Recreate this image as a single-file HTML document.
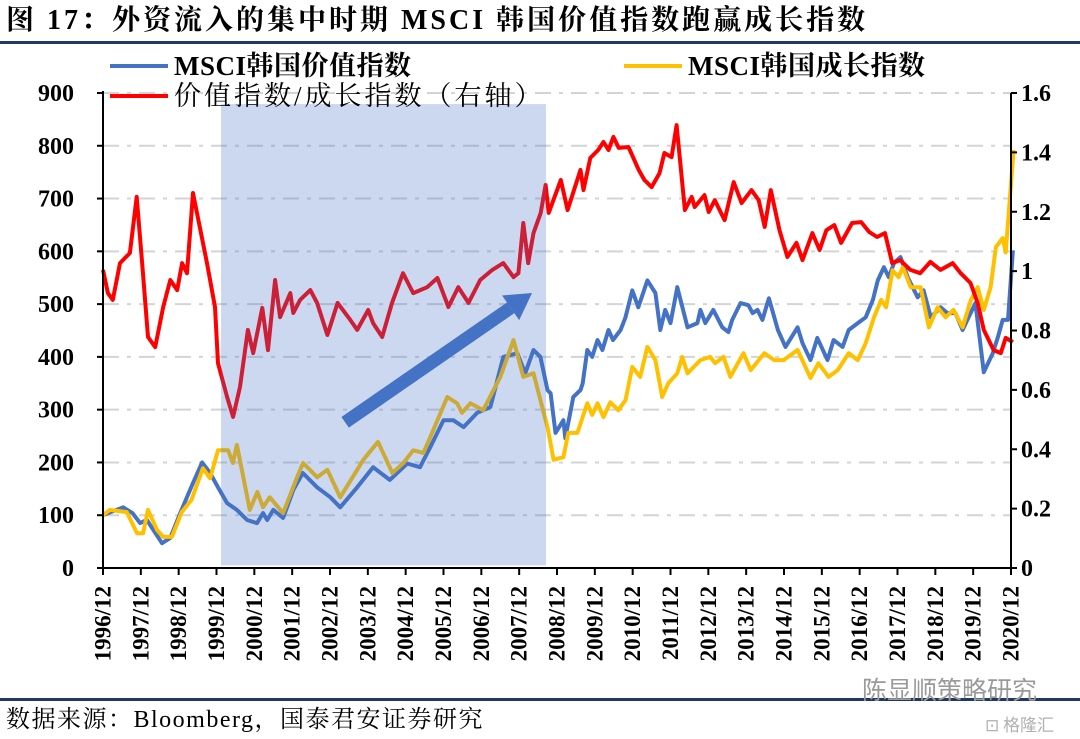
<!DOCTYPE html>
<html><head><meta charset="utf-8">
<style>
html,body{margin:0;padding:0;background:#fff;}
body{width:1080px;height:739px;overflow:hidden;position:relative;}
svg{position:absolute;left:0;top:0;}
</style></head>
<body>
<svg id="chart" width="1080" height="739" viewBox="0 0 1080 739" xmlns="http://www.w3.org/2000/svg">
  <text x="6" y="29" font-family="'Liberation Serif','Noto Serif CJK SC',serif" font-weight="bold" font-size="28" letter-spacing="3" fill="#000">图 17：外资流入的集中时期 MSCI 韩国价值指数跑赢成长指数</text>
  <rect x="0" y="41" width="1080" height="3" fill="#1f3864"/>
  <g id="grid"></g>
  <g id="series"></g>
  <g id="overlay"></g>
  <g id="axes"></g>
  <g id="legend">
    <line x1="110" y1="66" x2="168" y2="66" stroke="#4472c4" stroke-width="4"/>
    <text x="174" y="75" font-family="'Liberation Serif','Noto Serif CJK SC',serif" font-weight="bold" font-size="27" letter-spacing="0.5">MSCI韩国价值指数</text>
    <line x1="624" y1="66" x2="682" y2="66" stroke="#ffc000" stroke-width="4"/>
    <text x="688" y="75" font-family="'Liberation Serif','Noto Serif CJK SC',serif" font-weight="bold" font-size="27" letter-spacing="0.5">MSCI韩国成长指数</text>
    <line x1="110" y1="96" x2="168" y2="96" stroke="#ff0000" stroke-width="4"/>
    <text x="174" y="105" font-family="'Liberation Serif','Noto Serif CJK SC',serif" font-size="27" letter-spacing="3">价值指数/成长指数（右轴）</text>
  </g>
  <rect x="0" y="698" width="1080" height="3" fill="#1f3864"/>
  <text x="862" y="699" font-family="'Noto Sans CJK SC',sans-serif" font-size="25" fill="#9a9a9a">陈显顺策略研究</text>
  <text x="985" y="731" font-family="'Noto Sans CJK SC',sans-serif" font-size="17" fill="#b0b0b0">⊡ 格隆汇</text>
  <text x="6" y="727" font-family="'Liberation Serif','Noto Serif CJK SC',serif" font-size="24" letter-spacing="1.5">数据来源：Bloomberg，国泰君安证券研究</text>
</svg>
<script>
// ---- data ----
const valueDates=[1996.92,1997.45,1997.7,1997.9,1998.08,1998.48,1998.7,1998.96,1999.3,1999.54,1999.75,1999.96,2000.2,2000.46,2000.73,2000.99,2001.15,2001.26,2001.42,2001.68,2001.95,2002.2,2002.58,2002.93,2003.19,2003.64,2004.06,2004.5,2004.96,2005.3,2005.57,2005.92,2006.18,2006.45,2006.81,2007.16,2007.5,2007.87,2008.08,2008.3,2008.48,2008.67,2008.75,2008.88,2009.09,2009.14,2009.35,2009.54,2009.6,2009.72,2009.85,2009.99,2010.12,2010.28,2010.4,2010.6,2010.73,2010.91,2011.07,2011.31,2011.52,2011.65,2011.78,2011.92,2012.1,2012.37,2012.63,2012.71,2012.84,2013.05,2013.29,2013.45,2013.55,2013.77,2013.98,2014.09,2014.22,2014.35,2014.52,2014.76,2014.96,2015.28,2015.41,2015.62,2015.8,2016.07,2016.23,2016.47,2016.63,2016.87,2017.08,2017.27,2017.4,2017.56,2017.69,2017.83,2018.0,2018.19,2018.45,2018.61,2018.8,2019.06,2019.24,2019.45,2019.64,2019.8,2019.98,2020.2,2020.44,2020.57,2020.7,2020.84,2020.97];
const valueIndex=[100,115,104,85,91,47,57,104,161,200,180,153,123,110,91,85,104,91,110,95,148,180,153,134,115,153,191,167,198,191,229,280,280,267,294,305,400,407,369,413,400,337,331,256,280,246,324,337,350,413,400,432,413,451,432,451,475,526,494,545,521,451,489,464,532,456,464,489,464,489,456,447,470,502,498,483,489,470,511,451,419,456,426,394,436,394,432,419,451,464,475,508,545,570,551,578,589,551,513,526,475,494,483,483,451,475,502,371,407,437,470,470,602];
const growthDates=[1996.92,1997.1,1997.55,1997.82,1997.98,1998.11,1998.35,1998.51,1998.74,1999.0,1999.26,1999.56,1999.75,1999.96,2000.23,2000.35,2000.46,2000.8,2001.0,2001.15,2001.33,2001.68,2002.05,2002.21,2002.58,2002.85,2003.19,2003.64,2003.8,2004.19,2004.57,2004.86,2005.12,2005.39,2005.57,2006.02,2006.28,2006.41,2006.63,2006.97,2007.42,2007.77,2008.03,2008.3,2008.53,2008.67,2008.83,2009.09,2009.22,2009.46,2009.72,2009.85,2009.99,2010.15,2010.33,2010.54,2010.73,2010.91,2011.12,2011.31,2011.52,2011.7,2011.86,2012.1,2012.23,2012.37,2012.71,2012.97,2013.1,2013.32,2013.5,2013.85,2014.04,2014.4,2014.66,2014.91,2015.28,2015.62,2015.83,2016.1,2016.34,2016.63,2016.87,2017.08,2017.3,2017.49,2017.62,2017.79,2017.95,2018.06,2018.27,2018.53,2018.75,2018.98,2019.19,2019.4,2019.64,2019.86,2020.04,2020.2,2020.38,2020.52,2020.7,2020.78,2020.99];
const growthIndex=[100,110,106,66,66,110,72,59,59,106,129,189,170,223,223,199,233,110,144,115,134,104,172,199,172,186,134,186,205,239,180,199,223,218,248,324,312,294,312,299,362,432,362,369,305,267,205,210,256,256,312,290,312,286,314,299,318,381,362,419,394,324,350,369,400,369,394,400,388,400,362,407,375,407,394,394,413,360,388,362,375,407,394,426,475,508,494,564,551,570,532,532,456,494,475,489,456,508,532,489,532,608,625,598,792];
const ratioDates=[1996.92,1997.05,1997.18,1997.37,1997.63,1997.81,1997.97,1998.11,1998.3,1998.51,1998.7,1998.88,1999.01,1999.14,1999.3,1999.67,1999.88,1999.96,2000.2,2000.36,2000.54,2000.75,2000.89,2001.13,2001.28,2001.47,2001.6,2001.87,2001.95,2002.13,2002.4,2002.58,2002.85,2003.12,2003.46,2003.64,2003.93,2004.06,2004.3,2004.56,2004.85,2005.12,2005.49,2005.76,2006.05,2006.31,2006.58,2006.89,2007.21,2007.5,2007.77,2007.9,2008.03,2008.16,2008.3,2008.49,2008.62,2008.7,2009.02,2009.2,2009.54,2009.62,2009.8,2010.01,2010.15,2010.28,2010.41,2010.55,2010.81,2011.08,2011.23,2011.42,2011.63,2011.76,2011.95,2012.08,2012.3,2012.48,2012.56,2012.82,2012.93,2013.09,2013.35,2013.59,2013.8,2014.06,2014.25,2014.41,2014.57,2014.8,2015.01,2015.25,2015.41,2015.67,2015.86,2016.04,2016.25,2016.43,2016.72,2016.96,2017.17,2017.38,2017.59,2017.78,2017.99,2018.26,2018.52,2018.79,2019.06,2019.38,2019.59,2019.85,2020.04,2020.2,2020.46,2020.65,2020.78,2020.97];
const ratioIndex=[1.004,0.926,0.903,1.027,1.061,1.25,1.004,0.778,0.744,0.879,0.97,0.936,1.027,0.993,1.263,1.027,0.879,0.69,0.576,0.509,0.61,0.802,0.724,0.876,0.734,0.97,0.845,0.926,0.859,0.903,0.936,0.893,0.785,0.893,0.835,0.802,0.869,0.825,0.778,0.893,0.993,0.926,0.946,0.977,0.879,0.946,0.893,0.97,1.004,1.027,0.98,0.993,1.162,1.027,1.128,1.196,1.29,1.196,1.307,1.206,1.341,1.273,1.381,1.408,1.435,1.408,1.452,1.415,1.418,1.341,1.307,1.283,1.33,1.398,1.384,1.492,1.206,1.25,1.216,1.256,1.199,1.239,1.172,1.3,1.229,1.273,1.239,1.149,1.273,1.138,1.048,1.095,1.037,1.128,1.071,1.138,1.155,1.095,1.162,1.165,1.132,1.115,1.128,1.027,1.037,1.004,0.993,1.031,1.004,1.027,0.993,0.96,0.893,0.802,0.734,0.724,0.775,0.761];
const leftTicks=[0,100,200,300,400,500,600,700,800,900];
const rightTicks=[0,0.2,0.4,0.6,0.8,1.0,1.2,1.4,1.6];
const rightTickLabels=["0","0.2","0.4","0.6","0.8","1","1.2","1.4","1.6"];
const yearTicks=[1996,1997,1998,1999,2000,2001,2002,2003,2004,2005,2006,2007,2008,2009,2010,2011,2012,2013,2014,2015,2016,2017,2018,2019,2020];
const shadeRange=[2000.04,2008.63];
const shadeValues=[5,879];
const arrowStart=[2003.32,276];
const arrowEnd=[2008.26,521];

// ---- scales ----
const X0=103,X1=1011,Y0=568,Y1=93;
const T0=1996.92,T1=2020.92;
const xs=t=>X0+(t-T0)/(T1-T0)*(X1-X0);
const yl=v=>Y0-v/900*(Y0-Y1);
const yr=v=>Y0-v/1.6*(Y0-Y1);
const NS="http://www.w3.org/2000/svg";
function mk(tag,attrs,parent){const e=document.createElementNS(NS,tag);for(const k in attrs)e.setAttribute(k,attrs[k]);parent.appendChild(e);return e;}
const grid=document.getElementById('grid'),series=document.getElementById('series'),overlay=document.getElementById('overlay'),axes=document.getElementById('axes');
const serif="'Liberation Serif','Noto Serif CJK SC',serif";

leftTicks.forEach(v=>{
  if(v>0){const g=mk('line',{x1:X0,x2:X1,y1:yl(v),y2:yl(v),stroke:'#d4d4d4','stroke-width':2,'stroke-dasharray':'16,8,4,8'},grid);
  
  }
  const t=mk('text',{x:74,y:yl(v)+8,'text-anchor':'end','font-family':serif,'font-weight':'bold','font-size':24},axes);
  t.textContent=v;
  
  
  const tk=mk('line',{x1:X0-6,x2:X0,y1:yl(v),y2:yl(v),stroke:'#000','stroke-width':2},axes);
  
  
});
rightTicks.forEach((v,i)=>{
  const t=mk('text',{x:1021,y:yr(v)+8,'font-family':serif,'font-weight':'bold','font-size':24},axes);
  t.textContent=rightTickLabels[i];
  
  
  const tk=mk('line',{x1:X1,x2:X1+6,y1:yr(v),y2:yr(v),stroke:'#000','stroke-width':2},axes);
  
  
});
yearTicks.forEach(y=>{
  const x=xs(y+0.92);
  const tk=mk('line',{x1:x,x2:x,y1:Y0,y2:Y0+7,stroke:'#000','stroke-width':2},axes);
  
  
  const t=mk('text',{x:0,y:0,'text-anchor':'end','dominant-baseline':'central','font-family':serif,'font-weight':'bold','font-size':23,transform:`translate(${x},586) rotate(-90)`},axes);
  t.textContent=y+'/12';
  
  
});
[[X0,Y1-2,X0,Y0],[X1,Y1,X1,Y0],[X0,Y0,X1,Y0]].forEach((c,i)=>{
  const l=mk('line',{x1:c[0],y1:c[1],x2:c[2],y2:c[3],stroke:'#000','stroke-width':2},axes);
  
  
});

function drawLine(dates,vals,scale,color,name){
  const d=dates.map((t,i)=>(i?'L':'M')+xs(t).toFixed(1)+','+scale(vals[i]).toFixed(1)).join('');
  const p=mk('path',{d:d,fill:'none',stroke:color,'stroke-width':4,'stroke-linejoin':'round'},series);
  
  
}
drawLine(valueDates,valueIndex,yl,'#4472c4','value-index-line');
drawLine(growthDates,growthIndex,yl,'#ffc000','growth-index-line');
drawLine(ratioDates,ratioIndex,yr,'#ff0000','value-growth-ratio-line');

const sh=mk('rect',{x:xs(shadeRange[0]),y:yl(shadeValues[1]),width:xs(shadeRange[1])-xs(shadeRange[0]),height:yl(shadeValues[0])-yl(shadeValues[1]),fill:'#4472c4','fill-opacity':0.28},overlay);



const ax1=xs(arrowStart[0]),ay1=yl(arrowStart[1]),ax2=xs(arrowEnd[0]),ay2=yl(arrowEnd[1]);
const ang=Math.atan2(ay2-ay1,ax2-ax1),hl=26,hw=15;
const bx=ax2-hl*Math.cos(ang),by=ay2-hl*Math.sin(ang);
const sl=mk('line',{x1:ax1,y1:ay1,x2:bx,y2:by,stroke:'#4472c4','stroke-width':13},overlay);


const px=-Math.sin(ang),py=Math.cos(ang);
const hd=mk('polygon',{points:`${ax2},${ay2} ${bx+px*hw},${by+py*hw} ${bx-px*hw},${by-py*hw}`,fill:'#4472c4'},overlay);


</script>
</body></html>
